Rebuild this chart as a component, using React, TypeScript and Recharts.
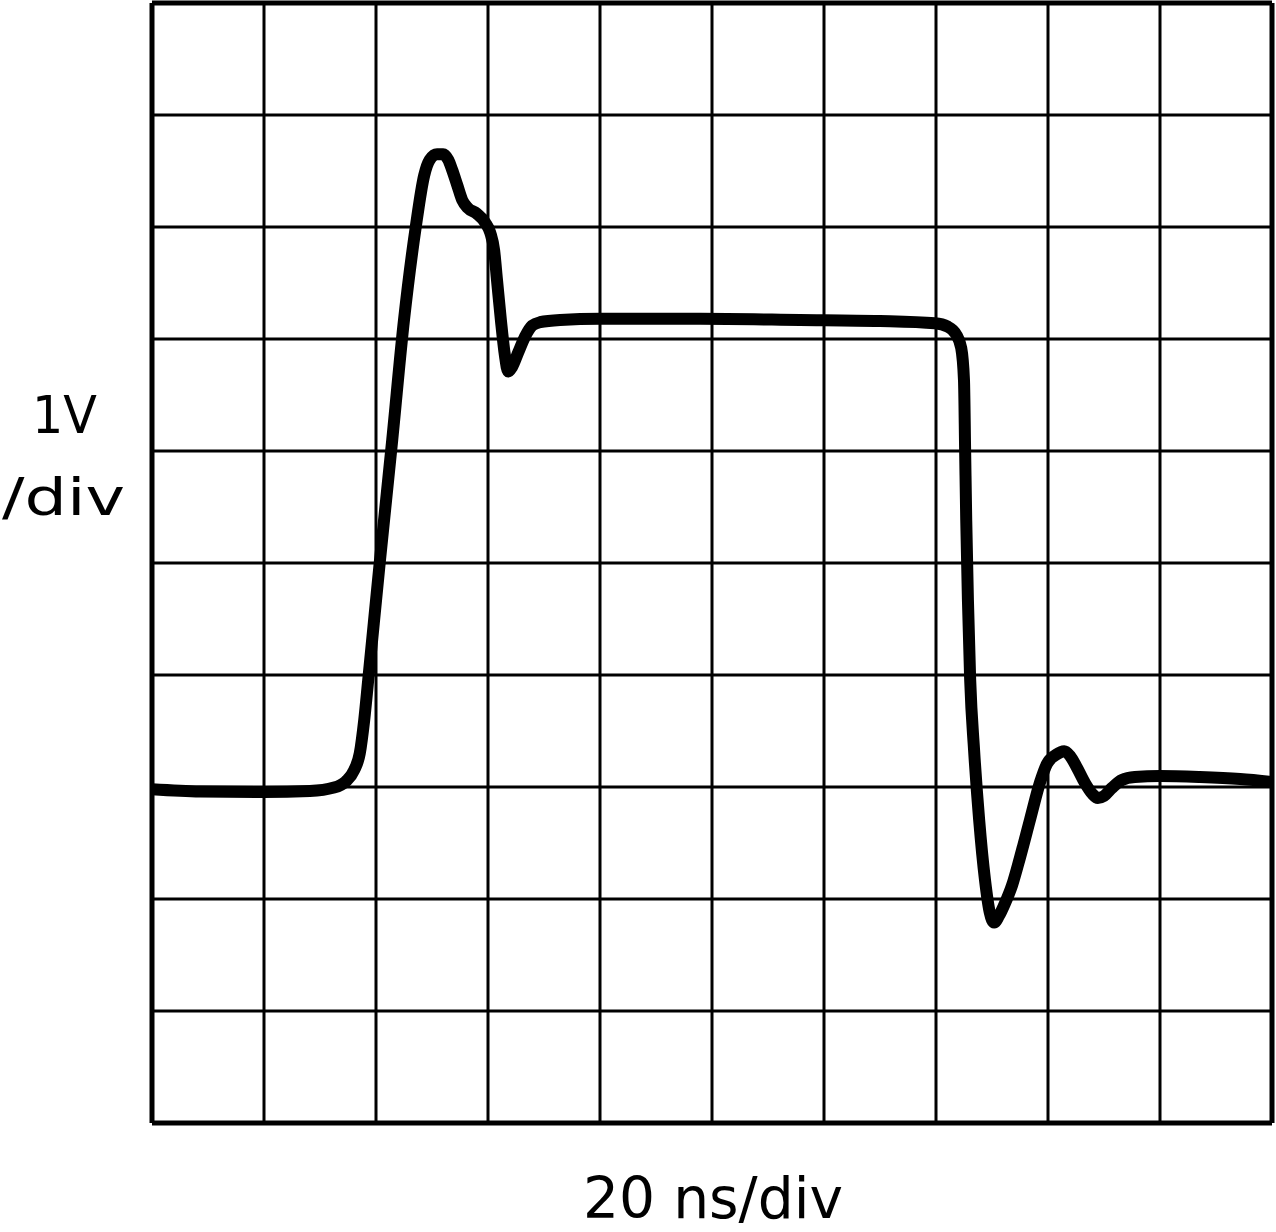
import { LineChart, Line, XAxis, YAxis, ReferenceLine } from 'recharts'

// time in ns (20 ns/div), amplitude in V (1 V/div)
const timeNs = [
  0, 8.6, 20, 28.2, 32.5, 34.6, 36.1, 37.1, 37.9, 38.6, 40.7, 42.9, 45.0, 47.1, 48.6,
  49.6, 50.9, 52.0, 52.9, 53.6, 54.5, 55.4, 56.4, 58.0, 59.5, 60.4, 61.1, 61.6, 62.3, 63.0,
  63.6, 64.3, 65.4, 66.6, 67.9, 69.3, 72.9, 80, 97.9, 115.7, 130, 139.8, 142.1, 143.6, 144.5, 145.0,
  145.2, 145.4, 145.7, 146.1, 146.8, 147.7, 148.75, 149.6, 150.4, 151.25, 152.3, 153.6, 155, 156.8,
  158.6, 159.8, 161.4, 162.9, 163.9, 165.2, 166.6, 167.9, 168.9, 170, 171.4, 173.2, 175.5, 180,
  187.1, 194.3, 200,
]

const volts = [
  -0.02, -0.04, -0.045, -0.036, -0.005, 0.05, 0.15, 0.3, 0.6, 0.95, 2.02, 3.1, 4.17, 5.0, 5.46,
  5.6, 5.65, 5.65, 5.6, 5.51, 5.375, 5.24, 5.17, 5.12, 5.04, 4.95, 4.79, 4.53, 4.17,
  3.86, 3.71, 3.75, 3.88, 4.02, 4.12, 4.15, 4.17, 4.18, 4.18, 4.17, 4.16, 4.14, 4.11, 4.04, 3.92,
  3.63, 3.01, 2.38, 1.67, 0.96, 0.33, -0.29, -0.83, -1.12, -1.21, -1.15, -1.04, -0.875, -0.63, -0.29,
  0.045, 0.205, 0.286, 0.32, 0.28, 0.17, 0.036, -0.06, -0.098, -0.08, -0.009, 0.063, 0.089, 0.098,
  0.089, 0.071, 0.045,
]

const xTicks = [0, 20, 40, 60, 80, 100, 120, 140, 160, 180, 200]
const yTicks = [-3, -2, -1, 0, 1, 2, 3, 4, 5, 6, 7]

const data = timeNs.map((t, i) => ({ t, v: volts[i] }))

export default function App() {
  return (
    <div style={{ position: 'absolute', left: 0, top: 0, width: 1276, height: 1232, background: '#fff' }}>
      <LineChart width={1276} height={1232} data={data} margin={{ top: 3, right: 4, bottom: 109, left: 152 }}>
        <XAxis dataKey="t" type="number" domain={[0, 200]} ticks={xTicks} hide />
        <YAxis type="number" domain={[-3, 7]} ticks={yTicks} hide />
        {xTicks.map((x, i) => (
          <ReferenceLine
            key={`x${x}`}
            x={x}
            stroke="#000"
            strokeWidth={i === 0 || i === xTicks.length - 1 ? 5 : 3}
          />
        ))}
        {yTicks.map((y, i) => (
          <ReferenceLine
            key={`y${y}`}
            y={y}
            stroke="#000"
            strokeWidth={i === 0 || i === yTicks.length - 1 ? 5 : 3}
          />
        ))}
        <Line
          type="monotone"
          dataKey="v"
          stroke="#000"
          strokeWidth={12}
          strokeLinejoin="round"
          dot={false}
          activeDot={false}
          isAnimationActive={false}
        />
      </LineChart>
      <svg
        width={1276}
        height={1232}
        style={{ position: 'absolute', left: 0, top: 0, pointerEvents: 'none' }}
        fontFamily="'Liberation Sans Narrow', 'DejaVu Sans', sans-serif"
        fill="#000"
      >
        <text x={32} y={433} fontSize={52} textLength={65} lengthAdjust="spacingAndGlyphs">
          1V
        </text>
        <text x={2} y={515} fontSize={52} textLength={123} lengthAdjust="spacingAndGlyphs">
          /div
        </text>
        <text x={583} y={1218} fontSize={57} textLength={260} lengthAdjust="spacingAndGlyphs">
          20 ns/div
        </text>
      </svg>
    </div>
  )
}
